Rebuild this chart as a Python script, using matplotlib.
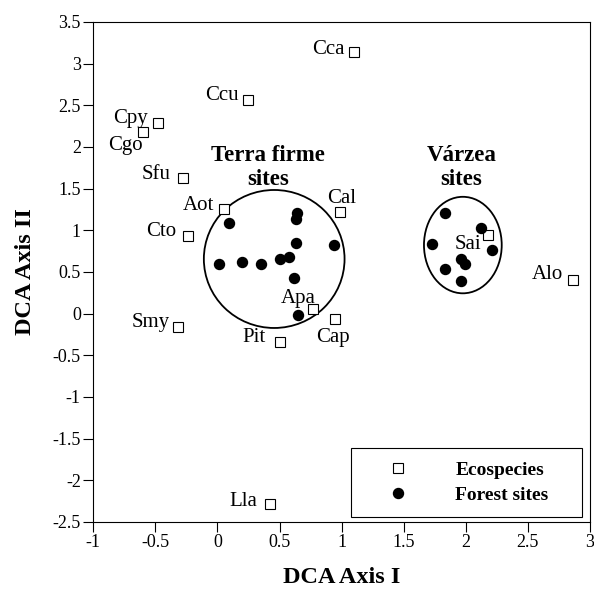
import matplotlib
matplotlib.use("Agg")
import matplotlib.pyplot as plt
from matplotlib.patches import Ellipse
from matplotlib.ticker import FormatStrFormatter, MultipleLocator

plt.rcParams["font.family"] = ["Liberation Serif", "DejaVu Serif"]
plt.rcParams["axes.unicode_minus"] = False

# ecospecies (open squares)
especes = ["Cca", "Ccu", "Cpy", "Cgo", "Sfu", "Aot", "Cal", "Cto",
           "Smy", "Pit", "Apa", "Cap", "Sai", "Alo", "Lla"]
esp_x = [1.10, 0.25, -0.48, -0.60, -0.28, 0.05, 0.99, -0.24,
         -0.32, 0.50, 0.77, 0.95, 2.18, 2.86, 0.42]
esp_y = [3.14, 2.56, 2.29, 2.18, 1.63, 1.25, 1.22, 0.93,
         -0.16, -0.34, 0.06, -0.06, 0.94, 0.40, -2.28]

# forest sites (filled dots)
terra_x = [0.01, 0.20, 0.35, 0.50, 0.58, 0.62, 0.63, 0.64, 0.63, 0.09, 0.94, 0.65]
terra_y = [0.59, 0.62, 0.59, 0.66, 0.68, 0.43, 0.85, 1.21, 1.13, 1.09, 0.82, -0.02]
varzea_x = [1.83, 2.12, 1.73, 2.21, 1.96, 1.99, 1.83, 1.96]
varzea_y = [1.21, 1.03, 0.84, 0.76, 0.66, 0.59, 0.54, 0.39]

# label placement (pixel offsets from the square, alignment)
decalages = {
    "Cca": (-9, -2, "right"), "Ccu": (-10, 0, "right"), "Cpy": (-10, 0, "right"),
    "Cgo": (0, -18, "right"), "Sfu": (-12, -1, "right"), "Aot": (-9, -1, "right"),
    "Cal": (1, 9, "center"), "Cto": (-11, 0, "right"), "Smy": (-8, 0, "right"),
    "Pit": (-14, 0, "right"), "Apa": (3, 6, "right"), "Cap": (-2, -23, "center"),
    "Sai": (-7, -14, "right"), "Alo": (-10, 1, "right"), "Lla": (-12, -2, "right"),
}

fig = plt.figure(figsize=(5.94, 5.91), dpi=100)
ax = fig.add_axes([0.157, 0.1168, 0.8363, 0.846])

# groupes de sites
ax.add_patch(Ellipse((0.457, 0.656), 1.133, 1.656, fill=False, ec="black", lw=1.3))
ax.add_patch(Ellipse((1.976, 0.823), 0.626, 1.158, fill=False, ec="black", lw=1.3))

ax.plot(esp_x, esp_y, ls="none", marker="s", ms=6.5, mfc="white", mec="black",
        mew=0.8, label="Ecospecies")
ax.plot(terra_x + varzea_x, terra_y + varzea_y, ls="none", marker="o", ms=7.2,
        mfc="black", mec="black", label="Forest sites")

for nom, x, y in zip(especes, esp_x, esp_y):
    dx, dy, ha = decalages[nom]
    ax.annotate(nom, (x, y), xytext=(dx, dy), textcoords="offset pixels",
                ha=ha, va="baseline", fontsize=15)

ax.text(0.409, 1.544, "Terra firme\nsites", ha="center", va="baseline",
        fontsize=16.5, fontweight="bold")
ax.text(1.965, 1.544, "Várzea\nsites", ha="center", va="baseline",
        fontsize=16.5, fontweight="bold")

ax.set_xlim(-1, 3)
ax.set_ylim(-2.5, 3.5)
ax.xaxis.set_major_locator(MultipleLocator(0.5))
ax.yaxis.set_major_locator(MultipleLocator(0.5))
ax.xaxis.set_major_formatter(FormatStrFormatter("%g"))
ax.yaxis.set_major_formatter(FormatStrFormatter("%g"))
ax.tick_params(direction="out", length=7, width=0.8, labelsize=13, pad=2)

ax.set_xlabel("DCA Axis I", fontsize=17.5, fontweight="bold")
ax.set_ylabel("DCA Axis II", fontsize=17.5, fontweight="bold")
ax.xaxis.set_label_coords(0.5, -0.09)
ax.yaxis.set_label_coords(-0.115, 0.5)

leg = ax.legend(loc="lower left", bbox_to_anchor=(0.519, 0.01, 0.465, 0.156),
                mode="expand", borderaxespad=0, fancybox=False, framealpha=1,
                edgecolor="black", borderpad=0.67, labelspacing=0.38,
                handlelength=3.5, handletextpad=1.2,
                prop={"weight": "bold", "size": 14})
leg.get_frame().set_linewidth(0.8)

fig.savefig("out.png", dpi=100)
